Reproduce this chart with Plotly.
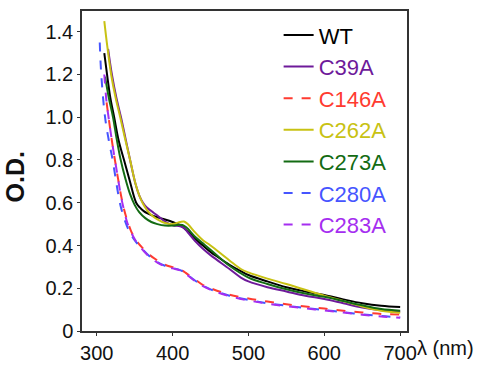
import plotly.graph_objects as go

# ---- data (wavelength nm, optical density) ----
wt_x = [310, 313.6, 318, 323, 329, 336, 343, 352, 357, 362, 367, 372, 380, 390, 400, 410, 420, 430, 440, 450, 460, 475, 490, 500, 525, 550, 575, 600, 625, 650, 675, 700]
wt_y = [1.30, 1.20, 1.09, 1.00, 0.89, 0.80, 0.71, 0.60, 0.577, 0.561, 0.55, 0.542, 0.532, 0.522, 0.51, 0.495, 0.465, 0.43, 0.40, 0.37, 0.345, 0.31, 0.28, 0.262, 0.232, 0.205, 0.185, 0.168, 0.148, 0.13, 0.118, 0.112]

c39a_x = [315, 320, 326, 332, 338, 344, 351, 356, 361, 366, 372, 380, 390, 400, 410, 415, 420, 430, 440, 450, 475, 490, 500, 525, 550, 575, 600, 625, 650, 675, 700]
c39a_y = [1.32, 1.20, 1.09, 1.00, 0.90, 0.80, 0.69, 0.635, 0.60, 0.578, 0.561, 0.54, 0.512, 0.495, 0.49, 0.482, 0.462, 0.42, 0.385, 0.355, 0.29, 0.25, 0.232, 0.205, 0.185, 0.165, 0.15, 0.13, 0.11, 0.097, 0.09]

c146a_x = [313, 316, 320, 324, 328, 332, 336, 340, 345, 350, 355, 360, 370, 380, 390, 400, 410, 415, 420, 430, 440, 450, 475, 500, 525, 550, 575, 600, 625, 650, 675, 700]
c146a_y = [1.07, 0.99, 0.89, 0.80, 0.715, 0.635, 0.57, 0.52, 0.47, 0.435, 0.41, 0.39, 0.355, 0.33, 0.31, 0.298, 0.288, 0.278, 0.265, 0.24, 0.215, 0.20, 0.17, 0.152, 0.138, 0.125, 0.115, 0.105, 0.095, 0.087, 0.08, 0.077]

c262a_x = [310, 314, 319, 325, 331, 337, 344, 351, 356, 361, 366, 372, 380, 390, 400, 410, 415, 420, 430, 440, 450, 475, 490, 500, 525, 550, 568, 600, 625, 650, 675, 700]
c262a_y = [1.45, 1.33, 1.20, 1.09, 1.00, 0.905, 0.80, 0.69, 0.635, 0.595, 0.567, 0.543, 0.522, 0.505, 0.50, 0.51, 0.512, 0.50, 0.46, 0.425, 0.40, 0.33, 0.29, 0.274, 0.245, 0.22, 0.20, 0.165, 0.14, 0.115, 0.095, 0.085]

c273a_x = [311, 316, 321.5, 326, 331, 338, 344, 350, 356, 364, 372, 380, 390, 400, 408, 413, 418, 430, 440, 450, 475, 500, 525, 550, 575, 600, 625, 650, 675, 700]
c273a_y = [1.19, 1.09, 1.00, 0.905, 0.81, 0.71, 0.64, 0.59, 0.556, 0.528, 0.51, 0.50, 0.493, 0.493, 0.497, 0.496, 0.485, 0.44, 0.41, 0.38, 0.305, 0.25, 0.22, 0.195, 0.175, 0.16, 0.14, 0.12, 0.103, 0.095]

c280a_x = [304, 306, 311, 316, 321, 326, 330.5, 335, 340, 345, 350, 355, 360, 370, 380, 390, 400, 410, 415, 420, 430, 440, 450, 475, 500, 525, 550, 575, 600, 625, 650, 675, 700]
c280a_y = [1.35, 1.20, 1.00, 0.89, 0.80, 0.69, 0.60, 0.54, 0.49, 0.452, 0.425, 0.402, 0.383, 0.348, 0.322, 0.305, 0.295, 0.285, 0.275, 0.262, 0.235, 0.212, 0.195, 0.165, 0.145, 0.13, 0.118, 0.108, 0.098, 0.088, 0.078, 0.07, 0.064]

c283a_x = [310, 313, 316, 320, 324, 328, 332, 336, 340, 345, 350, 355, 360, 370, 380, 390, 400, 410, 415, 420, 430, 440, 450, 475, 500, 525, 550, 575, 600, 625, 650, 675, 700]
c283a_y = [1.20, 1.07, 0.99, 0.89, 0.80, 0.715, 0.63, 0.565, 0.51, 0.465, 0.43, 0.403, 0.382, 0.345, 0.32, 0.303, 0.293, 0.283, 0.273, 0.26, 0.233, 0.21, 0.193, 0.163, 0.143, 0.128, 0.116, 0.106, 0.096, 0.086, 0.076, 0.068, 0.062]

names = ["WT", "C39A", "C146A", "C262A", "C273A", "C280A", "C283A"]
colors = ["#000000", "#6E1A9A", "#FF3B30", "#C8C213", "#136B13", "#4655FF", "#A52EF0"]
dashes = ["solid", "solid", "dash", "solid", "solid", "dash", "dash"]
series = [(wt_x, wt_y), (c39a_x, c39a_y), (c146a_x, c146a_y), (c262a_x, c262a_y),
          (c273a_x, c273a_y), (c280a_x, c280a_y), (c283a_x, c283a_y)]

x_ticks = [300, 400, 500, 600, 700]
y_ticks = [0, 0.2, 0.4, 0.6, 0.8, 1.0, 1.2, 1.4]
y_labels = ["0", "0.2", "0.4", "0.6", "0.8", "1.0", "1.2", "1.4"]

FONT = "Liberation Sans, Arial, sans-serif"

fig = go.Figure()
for i in range(len(names)):
    x, y = series[i]
    fig.add_trace(go.Scatter(
        x=x, y=y, mode="lines", line_shape="spline",
        name=f"<span style='color:{colors[i]}'>{names[i]}</span>",
        line=dict(color=colors[i], width=2, dash=dashes[i]),
        legendgroup=names[i], legendrank=i + 1,
    ))

axis_common = dict(
    ticks="outside", ticklen=3, tickcolor="#333", linecolor="#333", linewidth=1.5,
    mirror=True, showgrid=False, zeroline=False, automargin=False,
    tickfont=dict(size=20, color="#111", family=FONT),
)

fig.update_layout(
    width=490, height=365,
    margin=dict(l=82, r=83, t=11, b=34),
    paper_bgcolor="white", plot_bgcolor="white",
    font=dict(family=FONT, size=20, color="#111"),
    showlegend=True,
    legend=dict(
        x=0.605, y=0.99, xanchor="left", yanchor="top",
        bgcolor="rgba(0,0,0,0)", borderwidth=0,
        font=dict(size=22, family=FONT),
        tracegroupgap=6, itemwidth=30, traceorder="normal",
    ),
    xaxis=dict(range=[280.6, 709], tickvals=x_ticks, **axis_common),
    yaxis=dict(range=[0, 1.497], tickvals=y_ticks, ticktext=y_labels, **axis_common),
    annotations=[
        dict(text="λ (nm)", xref="paper", yref="paper", x=1.0, xshift=8, y=0,
             xanchor="left", yanchor="top", yshift=-4, showarrow=False,
             font=dict(size=20, family=FONT, color="#111")),
        dict(text="<b>O.D.</b>", xref="paper", yref="paper", x=0, xshift=-67,
             y=0.48, xanchor="center", yanchor="middle", textangle=-90,
             showarrow=False, font=dict(size=25, family=FONT, color="#111")),
    ],
)

fig.write_html(
    "out.html",
    config={"displayModeBar": False},
    post_script="document.body.style.margin='0';document.body.style.overflow='hidden';",
)
